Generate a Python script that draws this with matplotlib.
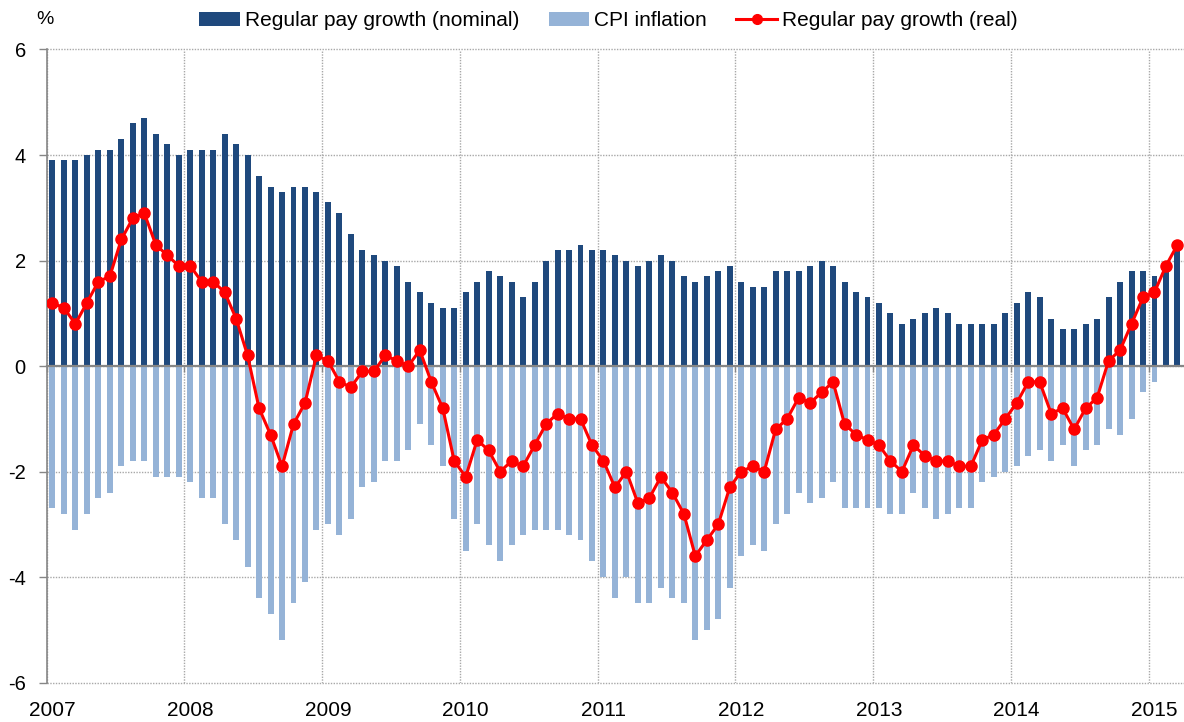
import numpy as np
import matplotlib
matplotlib.use("Agg")
import matplotlib.pyplot as plt
from matplotlib.patches import Patch
from matplotlib.lines import Line2D

plt.rcParams['font.family'] = ['Liberation Sans', 'DejaVu Sans']

years = ['2007', '2008', '2009', '2010', '2011', '2012', '2013', '2014', '2015']

nominal = [
    3.9, 3.9, 3.9, 4.0, 4.1, 4.1, 4.3, 4.6, 4.7, 4.4, 4.2, 4.0,   # 2007
    4.1, 4.1, 4.1, 4.4, 4.2, 4.0, 3.6, 3.4, 3.3, 3.4, 3.4, 3.3,   # 2008
    3.1, 2.9, 2.5, 2.2, 2.1, 2.0, 1.9, 1.6, 1.4, 1.2, 1.1, 1.1,   # 2009
    1.4, 1.6, 1.8, 1.7, 1.6, 1.3, 1.6, 2.0, 2.2, 2.2, 2.3, 2.2,   # 2010
    2.2, 2.1, 2.0, 1.9, 2.0, 2.1, 2.0, 1.7, 1.6, 1.7, 1.8, 1.9,   # 2011
    1.6, 1.5, 1.5, 1.8, 1.8, 1.8, 1.9, 2.0, 1.9, 1.6, 1.4, 1.3,   # 2012
    1.2, 1.0, 0.8, 0.9, 1.0, 1.1, 1.0, 0.8, 0.8, 0.8, 0.8, 1.0,   # 2013
    1.2, 1.4, 1.3, 0.9, 0.7, 0.7, 0.8, 0.9, 1.3, 1.6, 1.8, 1.8,   # 2014
    1.7, 1.9, 2.2,                                                # 2015
]

cpi = [
    -2.7, -2.8, -3.1, -2.8, -2.5, -2.4, -1.9, -1.8, -1.8, -2.1, -2.1, -2.1,
    -2.2, -2.5, -2.5, -3.0, -3.3, -3.8, -4.4, -4.7, -5.2, -4.5, -4.1, -3.1,
    -3.0, -3.2, -2.9, -2.3, -2.2, -1.8, -1.8, -1.6, -1.1, -1.5, -1.9, -2.9,
    -3.5, -3.0, -3.4, -3.7, -3.4, -3.2, -3.1, -3.1, -3.1, -3.2, -3.3, -3.7,
    -4.0, -4.4, -4.0, -4.5, -4.5, -4.2, -4.4, -4.5, -5.2, -5.0, -4.8, -4.2,
    -3.6, -3.4, -3.5, -3.0, -2.8, -2.4, -2.6, -2.5, -2.2, -2.7, -2.7, -2.7,
    -2.7, -2.8, -2.8, -2.4, -2.7, -2.9, -2.8, -2.7, -2.7, -2.2, -2.1, -2.0,
    -1.9, -1.7, -1.6, -1.8, -1.5, -1.9, -1.6, -1.5, -1.2, -1.3, -1.0, -0.5,
    -0.3, 0.0, 0.0,
]

real = [
    1.2, 1.1, 0.8, 1.2, 1.6, 1.7, 2.4, 2.8, 2.9, 2.3, 2.1, 1.9,
    1.9, 1.6, 1.6, 1.4, 0.9, 0.2, -0.8, -1.3, -1.9, -1.1, -0.7, 0.2,
    0.1, -0.3, -0.4, -0.1, -0.1, 0.2, 0.1, 0.0, 0.3, -0.3, -0.8, -1.8,
    -2.1, -1.4, -1.6, -2.0, -1.8, -1.9, -1.5, -1.1, -0.9, -1.0, -1.0, -1.5,
    -1.8, -2.3, -2.0, -2.6, -2.5, -2.1, -2.4, -2.8, -3.6, -3.3, -3.0, -2.3,
    -2.0, -1.9, -2.0, -1.2, -1.0, -0.6, -0.7, -0.5, -0.3, -1.1, -1.3, -1.4,
    -1.5, -1.8, -2.0, -1.5, -1.7, -1.8, -1.8, -1.9, -1.9, -1.4, -1.3, -1.0,
    -0.7, -0.3, -0.3, -0.9, -0.8, -1.2, -0.8, -0.6, 0.1, 0.3, 0.8, 1.3,
    1.4, 1.9, 2.3,
]

NAVY = '#1F497D'
LIGHT = '#95B3D7'
RED = '#FF0000'
GRID = '#A8A8A8'
AXIS = '#868686'

W, H = 1184, 722
fig = plt.figure(figsize=(W / 100, H / 100), dpi=100)
left_px, top_px, bot_px = 46.7, 49.5, 682.6
ax = fig.add_axes([left_px / W, 1 - bot_px / H, 1 - left_px / W, (bot_px - top_px) / H])

n = len(nominal)
x = np.arange(n)
ax.bar(x, nominal, width=0.52, color=NAVY, zorder=2)
ax.bar(x, cpi, width=0.52, color=LIGHT, zorder=2)
ax.plot(x, real, color=RED, lw=2.2, marker='o', ms=8, zorder=4)

ax.set_xlim(-0.5, 98.57)
ax.set_ylim(-6, 6)

# y axis
ax.set_yticks(np.arange(-6, 7, 2))
ax.set_yticklabels([str(v) for v in range(-6, 7, 2)])
ax.tick_params(axis='y', length=6, width=1, color=AXIS, pad=9, labelsize=14.5)
ax.grid(axis='y', ls=(0, (1, 1)), color=GRID, lw=1, zorder=0)

# x axis: zero line with year-boundary ticks
boundaries = np.arange(-0.5, n, 12)
ax.set_xticks(boundaries)
ax.tick_params(axis='x', length=4, width=1, color=AXIS, labelbottom=False, direction='out')
ax.grid(axis='x', ls=(0, (1, 1)), color=GRID, lw=1, zorder=0)
ax.set_axisbelow(True)
ax.spines['bottom'].set_position(('data', 0))
ax.spines['bottom'].set_color(AXIS)
ax.spines['bottom'].set_linewidth(1.6)
ax.spines['bottom'].set_zorder(3)
ax.spines['left'].set_color(AXIS)
ax.spines['left'].set_linewidth(1.2)
ax.spines['top'].set_visible(False)
ax.spines['right'].set_visible(False)
for gl in ax.yaxis.get_gridlines():
    gl.set_clip_on(False)

sec = ax.secondary_xaxis('bottom')
sec.set_xticks(np.arange(0, n, 12))
sec.set_xticklabels(years)
sec.tick_params(length=0, pad=13, labelsize=15)
sec.spines['bottom'].set_visible(False)

fig.text(45 / W, 1 - 20 / H, '%', ha='center', va='center', fontsize=14)

handles = [
    Patch(facecolor=NAVY, edgecolor='none'),
    Patch(facecolor=LIGHT, edgecolor='none'),
    Line2D([0], [0], color=RED, lw=2.2, marker='o', ms=7),
]
labels = ['Regular pay growth (nominal)', 'CPI inflation', 'Regular pay growth (real)']
fig.legend(handles, labels, loc='center', bbox_to_anchor=(0.514, 0.971), ncol=3,
           frameon=False, fontsize=15, handlelength=1.95, handleheight=0.65,
           handletextpad=0.25, columnspacing=1.4, borderaxespad=0)

fig.savefig('out.png', dpi=100)
